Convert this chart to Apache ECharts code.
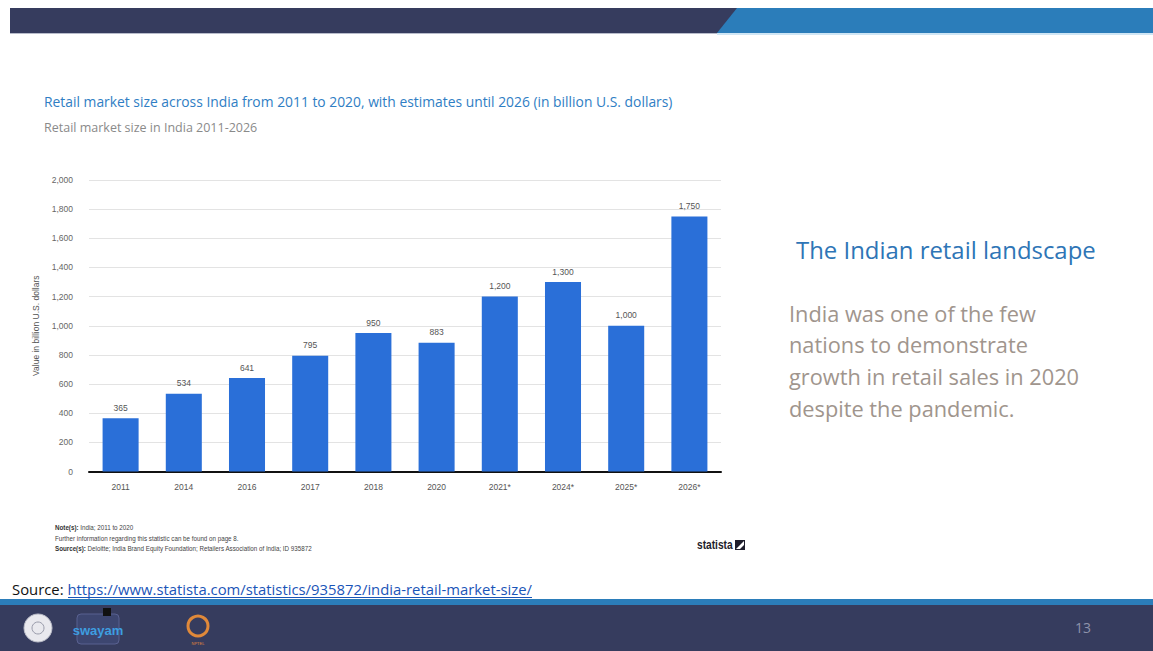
<!DOCTYPE html>
<html>
<head>
<meta charset="utf-8">
<script src="https://cdn.jsdelivr.net/npm/echarts@6/dist/echarts.min.js"></script>
<style>
  html, body { margin: 0; padding: 0; background: #ffffff; }
  #chart { width: 1153px; height: 651px; }
</style>
</head>
<body>
<div id="chart"></div>
<script>
// ---- data ----
const categories = ['2011', '2014', '2016', '2017', '2018', '2020', '2021*', '2024*', '2025*', '2026*'];
const retailValues = [365, 534, 641, 795, 950, 883, 1200, 1300, 1000, 1750];
const yTicks = { min: 0, max: 2000, interval: 200 };

const chartTitle = 'Retail market size across India from 2011 to 2020, with estimates until 2026 (in billion U.S. dollars)';
const chartSubtitle = 'Retail market size in India 2011-2026';
const yAxisName = 'Value in billion U.S. dollars';
const sideHeading = 'The Indian retail landscape';
const sideBody = ['India was one of the few', 'nations to demonstrate', 'growth in retail sales in 2020', 'despite the pandemic.'];
const sourceUrl = 'https://www.statista.com/statistics/935872/india-retail-market-size/';
const pageNumber = '13';

const chart = echarts.init(document.getElementById('chart'), null, { renderer: 'svg' });

const NAVY = '#363c5e';
const BLUE = '#2b7dba';

const graphics = [
  // top band
  { type: 'rect', shape: { x: 10, y: 8, width: 1143, height: 25 }, style: { fill: NAVY }, silent: true },
  { type: 'polygon', shape: { points: [[737, 8], [1153, 8], [1153, 33], [717, 33]] }, style: { fill: BLUE }, silent: true },
  { type: 'rect', shape: { x: 717, y: 33, width: 436, height: 2 }, style: { fill: '#cfe6f5' }, silent: true },
  { type: 'rect', shape: { x: 10, y: 33, width: 707, height: 1 }, style: { fill: '#b8bccb' }, silent: true },
  // bottom band
  { type: 'rect', shape: { x: 0, y: 599, width: 1153, height: 6 }, style: { fill: BLUE }, silent: true },
  { type: 'rect', shape: { x: 0, y: 605, width: 1153, height: 46 }, style: { fill: NAVY }, silent: true },
  // logos (simplified)
  { type: 'circle', shape: { cx: 38, cy: 628, r: 14 }, style: { fill: '#e9e9ee', stroke: '#bfc1cc', lineWidth: 1 }, silent: true },
  { type: 'circle', shape: { cx: 38, cy: 628, r: 6 }, style: { fill: 'none', stroke: '#9a9cab', lineWidth: 1 }, silent: true },
  { type: 'rect', shape: { x: 77, y: 614, width: 42, height: 30, r: 4 }, style: { fill: '#3d4670', stroke: '#596190', lineWidth: 1 }, silent: true },
  { type: 'text', style: { x: 98, y: 630, text: 'swayam', font: 'bold 13px "Liberation Sans", sans-serif', fill: '#3e9ee0', align: 'center', verticalAlign: 'middle' }, silent: true },
  { type: 'rect', shape: { x: 103, y: 608, width: 8, height: 8 }, style: { fill: '#111' }, silent: true },
  { type: 'circle', shape: { cx: 198, cy: 626, r: 10 }, style: { fill: 'none', stroke: '#e0893a', lineWidth: 3 }, silent: true },
  { type: 'text', style: { x: 198, y: 643, text: 'NPTEL', font: '4px sans-serif', fill: '#e0893a', align: 'center', verticalAlign: 'middle' }, silent: true },
  { type: 'text', style: { x: 1083, y: 627, text: pageNumber, font: '14px "Open Sans", sans-serif', fill: '#8e93ab', align: 'center', verticalAlign: 'middle' }, silent: true },

  // chart titles
  { type: 'text', x: 44, y: 101, scaleX: 0.99, style: { x: 0, y: 0, text: chartTitle, font: '14px "Open Sans", sans-serif', fill: '#2f7ec4', verticalAlign: 'middle' }, silent: true },
  { type: 'text', x: 44, y: 127, scaleX: 1.0, style: { x: 0, y: 0, text: chartSubtitle, font: '12.5px "Open Sans", sans-serif', fill: '#8a8a8a', verticalAlign: 'middle' }, silent: true },

  // notes
  { type: 'text', x: 55, y: 527, scaleX: 0.96, style: { x: 0, y: 0, text: '{b|Note(s):} India; 2011 to 2020', font: '6.5px "Liberation Sans", sans-serif', fill: '#444', verticalAlign: 'middle',
      rich: { b: { fontWeight: 'bold', fontSize: 6.5, fill: '#333' } } }, silent: true },
  { type: 'text', x: 55, y: 538, scaleX: 0.96, style: { x: 0, y: 0, text: 'Further information regarding this statistic can be found on page 8.', font: '6.5px "Liberation Sans", sans-serif', fill: '#444', verticalAlign: 'middle' }, silent: true },
  { type: 'text', x: 55, y: 548, scaleX: 0.96, style: { x: 0, y: 0, text: '{b|Source(s):} Deloitte; India Brand Equity Foundation; Retailers Association of India; ID 935872', font: '6.5px "Liberation Sans", sans-serif', fill: '#444', verticalAlign: 'middle',
      rich: { b: { fontWeight: 'bold', fontSize: 6.5, fill: '#333' } } }, silent: true },
  { type: 'text', x: 697, y: 545, scaleX: 0.85, style: { x: 0, y: 0, text: 'statista', font: 'bold 12px "Liberation Sans", sans-serif', fill: '#1d1d2b', verticalAlign: 'middle' }, silent: true },
  { type: 'polygon', shape: { points: [[735, 540], [745, 540], [745, 550], [735, 550]] }, style: { fill: '#1d1d2b' }, silent: true },
  { type: 'polygon', shape: { points: [[736, 549], [744, 541], [744, 545], [740, 549]] }, style: { fill: '#ffffff' }, silent: true },

  // source line
  { type: 'text', x: 12, y: 589, scaleX: 0.99, style: { x: 0, y: 0, text: 'Source: {l|' + sourceUrl + '}', font: '15px "Open Sans", sans-serif', fill: '#111', verticalAlign: 'middle',
      rich: { l: { fontSize: 15, fontFamily: '"Open Sans", sans-serif', fill: '#1a55b8' } } }, silent: true },
  { type: 'rect', shape: { x: 68, y: 597, width: 464, height: 1 }, style: { fill: '#1a55b8' }, silent: true },

  // side text
  { type: 'text', x: 796, y: 250, scaleX: 1.04, style: { x: 0, y: 0, text: sideHeading, font: '23px "Open Sans", sans-serif', fill: '#2e75b6', verticalAlign: 'middle' }, silent: true }
];
sideBody.forEach(function (line, i) {
  graphics.push({ type: 'text', x: 789, y: 313 + i * 31.7, scaleX: 0.99,
    style: { x: 0, y: 0, text: line, font: '22px "Open Sans", sans-serif', fill: '#a0958d', verticalAlign: 'middle' }, silent: true });
});

chart.setOption({
  backgroundColor: '#ffffff',
  animation: false,
  grid: { left: 89, top: 180, width: 632, height: 291.5, containLabel: false },
  xAxis: {
    type: 'category',
    data: categories,
    axisLine: { show: true, lineStyle: { color: '#111', width: 2 } },
    axisTick: { show: false },
    axisLabel: { color: '#555', fontSize: 8.5, fontFamily: '"Liberation Sans", sans-serif', margin: 11 }
  },
  yAxis: {
    type: 'value',
    min: yTicks.min, max: yTicks.max, interval: yTicks.interval,
    name: yAxisName,
    nameLocation: 'middle',
    nameGap: 35,
    nameTextStyle: { color: '#555', fontSize: 8.5, fontFamily: '"Liberation Sans", sans-serif' },
    axisLine: { show: false },
    axisTick: { show: false },
    splitLine: { lineStyle: { color: '#e3e3e3', width: 1 } },
    axisLabel: {
      color: '#666', fontSize: 8.5, fontFamily: '"Liberation Sans", sans-serif', margin: 16,
      formatter: function (v) { return v.toLocaleString('en-US'); }
    }
  },
  series: [{
    type: 'bar',
    data: retailValues,
    barWidth: '57%',
    itemStyle: { color: '#2a6fd8' },
    label: {
      show: true, position: 'top', distance: 6,
      color: '#555', fontSize: 8.5, fontFamily: '"Liberation Sans", sans-serif',
      formatter: function (p) { return p.value.toLocaleString('en-US'); }
    }
  }],
  graphic: graphics
});
</script>
</body>
</html>
